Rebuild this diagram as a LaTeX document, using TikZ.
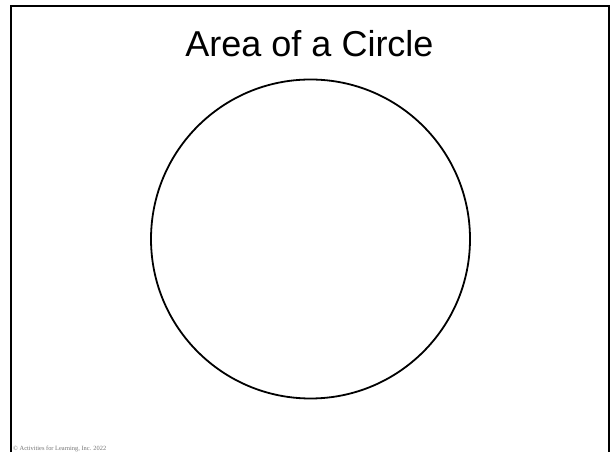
\documentclass[tikz,border=0pt]{standalone}
\usepackage{fontspec}
\setmainfont{Liberation Serif}
\newfontfamily\titlefont{Liberation Sans}
\tikzset{
  frm/.style={draw, line width=2.3pt},
  rnd/.style={circle, draw, line width=1.8pt, minimum size=319pt, inner sep=0pt},
  ttl/.style={font=\titlefont\fontsize{36}{42}\selectfont, inner sep=0pt, anchor=base},
  cpy/.style={font=\fontsize{6.4}{7}\selectfont, text=black!55, inner sep=0pt, anchor=base west}
}
\begin{document}
\begin{tikzpicture}[x=1pt, y=1pt]
	\useasboundingbox (0,0) rectangle (612,452);
	% frame, open at the bottom
	\coordinate (fbl) at (11.3,0);
	\coordinate (fbr) at (608.7,0);
	\draw[frm] (fbl) |- (608.7,445.8) -- (fbr);
	% title
	\node[ttl] (title) at (309.5,395) {Area of a Circle};
	% the circle
	\node[rnd] (disc) at (310.5,213) {};
	% copyright line
	\node[cpy] (copy) at (13,1.5) {\textcopyright{} Activities for Learning, Inc. 2022};
\end{tikzpicture}
\end{document}
